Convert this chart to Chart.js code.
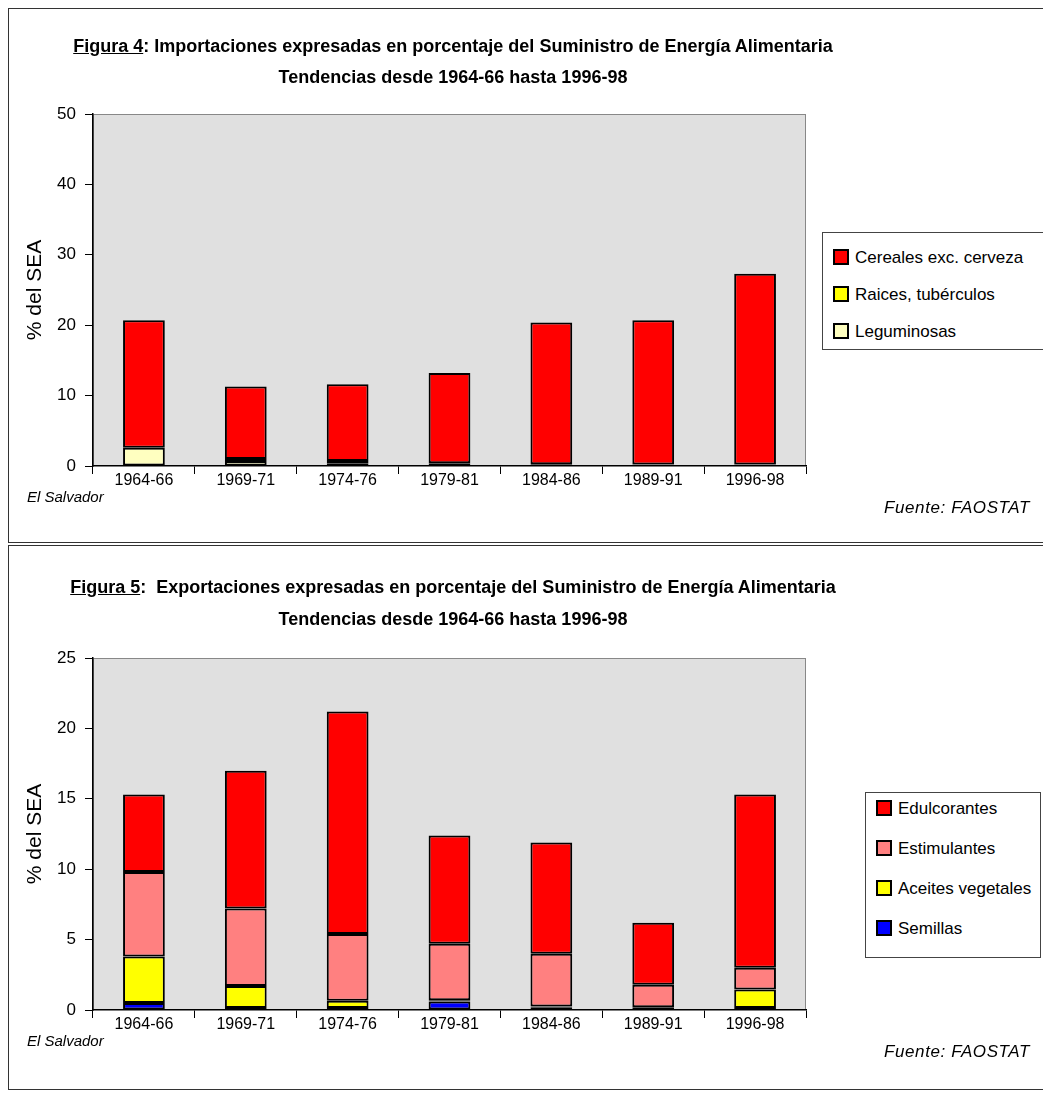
<!DOCTYPE html>
<html lang="es">
<head>
<meta charset="UTF-8">
<title>Figuras 4 y 5 - El Salvador</title>
<script src="https://cdn.jsdelivr.net/npm/chart.js"></script>
<style>
  body { margin: 0; width: 1043px; height: 1096px; overflow: hidden; background: #fff; position: relative;
         font-family: "Liberation Sans", Arial, sans-serif; }
  .panel { position: absolute; left: 8px; width: 1040px; border: 1.5px solid #333; box-sizing: border-box; }
  .cv { position: absolute; left: 0; }
  .ttl { position: absolute; left: 0; width: 906px; text-align: center; font-weight: bold; font-size: 18px; color: #000; }
  .foot { position: absolute; font-style: italic; font-size: 15px; color: #000; }
  .legend { position: absolute; background: #fff; border: 1.5px solid #444; box-sizing: border-box; font-size: 17px; }
  .legend div { position: absolute; left: 10px; white-space: nowrap; line-height: 20px; }
  .legend span { display: inline-block; width: 12px; height: 12px; border: 2px solid #000; margin-right: 6px; vertical-align: -2px; }
</style>
</head>
<body>
<div class="panel" style="top:8px;height:535px"></div>
<div class="panel" style="top:545px;height:545px"></div>

<div class="cv" style="top:0"><canvas id="imp" width="1043" height="545"></canvas></div>
<div class="cv" style="top:544px"><canvas id="exp" width="1043" height="545"></canvas></div>

<div class="ttl" style="top:36px"><u>Figura 4</u>: Importaciones expresadas en porcentaje del Suministro de Energía Alimentaria</div>
<div class="ttl" style="top:67px">Tendencias desde 1964-66 hasta 1996-98</div>
<div class="ttl" style="top:577px"><u>Figura 5</u>:&nbsp; Exportaciones expresadas en porcentaje del Suministro de Energía Alimentaria</div>
<div class="ttl" style="top:609px">Tendencias desde 1964-66 hasta 1996-98</div>

<div class="foot" style="left:27px;top:488px">El Salvador</div>
<div class="foot" style="right:13px;top:498px;font-size:17px;letter-spacing:0.6px">Fuente: FAOSTAT</div>
<div class="foot" style="left:27px;top:1032px">El Salvador</div>
<div class="foot" style="right:13px;top:1042px;font-size:17px;letter-spacing:0.6px">Fuente: FAOSTAT</div>

<div class="legend" id="leg1" style="left:822px;top:232px;width:230px;height:118px"></div>
<div class="legend" id="leg2" style="left:865px;top:792px;width:176px;height:166px"></div>

<script>
// periods
const periods = ['1964-66', '1969-71', '1974-76', '1979-81', '1984-86', '1989-91', '1996-98'];

// Figura 4: importaciones (% del SEA)
const impLeguminosas = [2.6, 0.7, 0.4, 0.1, 0.1, 0.05, 0.05];
const impRaices     = [0.0, 0.3, 0.3, 0.3, 0.15, 0.15, 0.15];
const impCereales   = [18.1, 10.3, 10.9, 12.8, 20.15, 20.5, 27.1];

// Figura 5: exportaciones (% del SEA)
const expSemillas    = [0.5, 0.15, 0.15, 0.6, 0.2, 0.2, 0.15];
const expAceites     = [3.3, 1.55, 0.5, 0.1, 0.05, 0.0, 1.3];
const expEstimulantes = [6.0, 5.5, 4.75, 4.0, 3.75, 1.6, 1.55];
const expEdulcorantes = [5.5, 9.8, 15.8, 7.7, 7.9, 4.4, 12.3];

const impTicks = [0, 10, 20, 30, 40, 50];
const expTicks = [0, 5, 10, 15, 20, 25];

const RED = '#ff0000', YELLOW = '#ffff00', CREAM = '#ffffc0', PINK = '#ff8080', BLUE = '#0000ff';

const plotBg = {
  id: 'plotBg',
  beforeDraw(chart) {
    const a = chart.chartArea, c = chart.ctx;
    c.save();
    c.fillStyle = '#e0e0e0';
    c.fillRect(a.left, a.top, a.right - a.left, a.bottom - a.top);
    c.strokeStyle = '#888';
    c.lineWidth = 1;
    c.strokeRect(a.left + 0.5, a.top + 0.5, a.right - a.left - 1, a.bottom - a.top - 1);
    c.restore();
  }
};

const tickFont = { family: '"Liberation Sans", Arial', size: 16 };

function makeChart(id, datasets, ticks) {
  new Chart(document.getElementById(id), {
    type: 'bar',
    data: {
      labels: periods,
      datasets: datasets.map(d => ({
        label: d.label, data: d.data.map(v => v === 0 ? null : v), backgroundColor: d.color,
        borderColor: '#000', borderWidth: 2, borderSkipped: false,
        barPercentage: 0.41, categoryPercentage: 1
      }))
    },
    options: {
      responsive: false,
      animation: false,
      layout: { padding: { top: 114, right: 237, bottom: 0, left: 0 } },
      plugins: { legend: { display: false }, tooltip: { enabled: false } },
      scales: {
        x: {
          stacked: true,
          grid: { drawOnChartArea: false, drawTicks: true, tickLength: 8, color: '#000', offset: true },
          border: { color: '#000', width: 1.5 },
          ticks: { color: '#000', font: tickFont, padding: -3, maxRotation: 0 },
          afterFit(s) { s.height = 79; }
        },
        y: {
          stacked: true,
          min: ticks[0], max: ticks[ticks.length - 1],
          afterBuildTicks(s) { s.ticks = ticks.map(v => ({ value: v })); },
          grid: { drawOnChartArea: false, drawTicks: true, tickLength: 8, color: '#000' },
          border: { color: '#000', width: 1.5 },
          ticks: { color: '#000', font: { family: '"Liberation Sans", Arial', size: 17 }, padding: 9 },
          title: { display: true, text: '% del SEA', color: '#000',
                   font: { family: '"Liberation Sans", Arial', size: 21 }, padding: { top: 23, bottom: 0 } },
          afterFit(s) { s.width = 93; }
        }
      }
    },
    plugins: [plotBg]
  });
}

makeChart('imp', [
  { label: 'Leguminosas', data: impLeguminosas, color: CREAM },
  { label: 'Raices, tubérculos', data: impRaices, color: YELLOW },
  { label: 'Cereales exc. cerveza', data: impCereales, color: RED }
], impTicks);

makeChart('exp', [
  { label: 'Semillas', data: expSemillas, color: BLUE },
  { label: 'Aceites vegetales', data: expAceites, color: YELLOW },
  { label: 'Estimulantes', data: expEstimulantes, color: PINK },
  { label: 'Edulcorantes', data: expEdulcorantes, color: RED }
], expTicks);

// legends (top entry first, as in the original)
function buildLegend(id, items, first, step) {
  const box = document.getElementById(id);
  items.forEach((it, i) => {
    const d = document.createElement('div');
    d.style.top = (first + i * step - 10) + 'px';
    d.innerHTML = '<span style="background:' + it[1] + '"></span>' + it[0];
    box.appendChild(d);
  });
}
buildLegend('leg1', [['Cereales exc. cerveza', RED], ['Raices, tubérculos', YELLOW], ['Leguminosas', CREAM]], 25, 37);
buildLegend('leg2', [['Edulcorantes', RED], ['Estimulantes', PINK], ['Aceites vegetales', YELLOW], ['Semillas', BLUE]], 16, 40);
</script>
</body>
</html>
